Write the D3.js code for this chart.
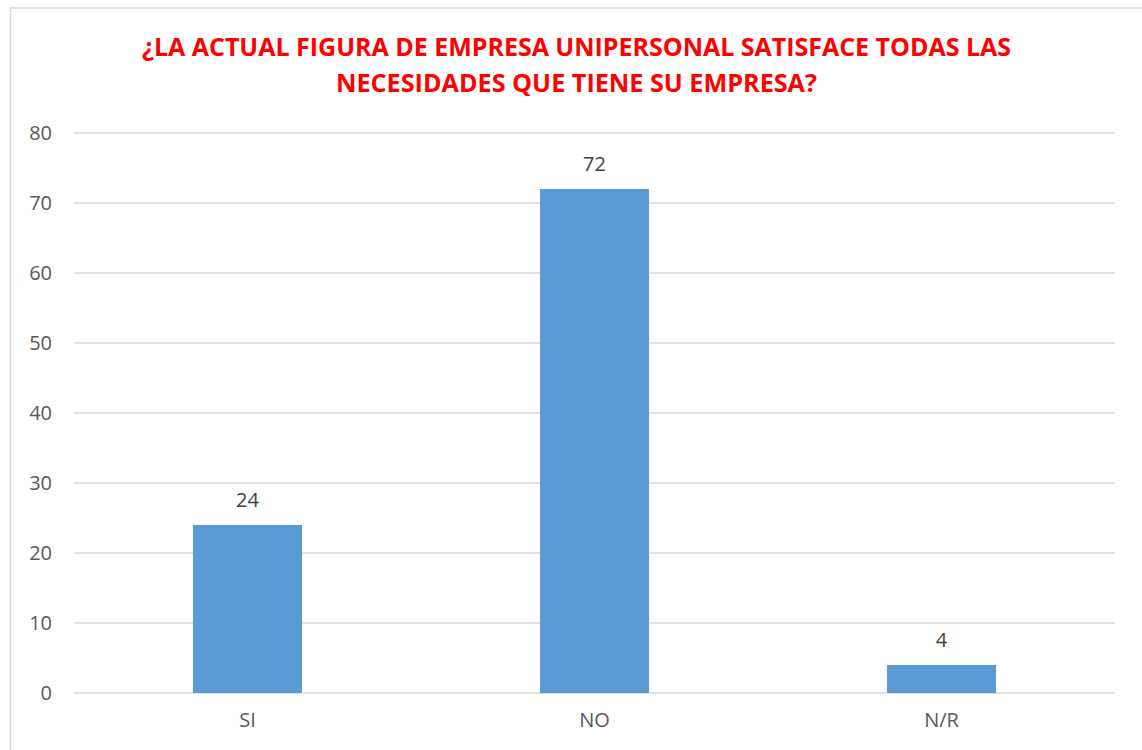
<!DOCTYPE html>
<html lang="es">
    <head>
        <meta charset="utf-8">
        <title>Empresa unipersonal</title>
        <script src="https://d3js.org/d3.v7.min.js"></script>
        <style>
            body { margin: 0; background: white; }
            text { font-family: "Open Sans", sans-serif; }
        </style>
    </head>
    <body>
        <script type="text/javascript">

            var categories = ["SI", "NO", "N/R"];
            var values = [24, 72, 4];
            var yTicks = [0, 10, 20, 30, 40, 50, 60, 70, 80];
            var titleLines = ["¿LA ACTUAL FIGURA DE EMPRESA UNIPERSONAL SATISFACE TODAS LAS",
                              "NECESIDADES QUE TIENE SU EMPRESA?"];

            var width = 1142, height = 750;
            var plot = { left: 74, right: 1115, top: 133, bottom: 693 };

            var svg = d3.select("body").append("svg")
                .attr("width", width)
                .attr("height", height);

            // chart frame
            svg.append("rect")
                .attr("x", 10.5).attr("y", 8)
                .attr("width", 1160).attr("height", 780)
                .attr("fill", "white")
                .attr("stroke", "#d9d9d9")
                .attr("stroke-width", 1.5);

            var x = d3.scaleBand()
                .domain(categories)
                .range([plot.left, plot.right])
                .paddingInner(0.686)
                .paddingOuter(0.343);

            var y = d3.scaleLinear()
                .domain([0, 80])
                .range([plot.bottom, plot.top]);

            // gridlines
            svg.append("g")
                .selectAll("line")
                .data(yTicks)
                .enter().append("line")
                .attr("x1", plot.left).attr("x2", plot.right)
                .attr("y1", d => y(d)).attr("y2", d => y(d))
                .attr("stroke", "#d9d9d9")
                .attr("stroke-width", 1.5);

            // y axis labels
            var yAxis = d3.axisLeft(y).tickValues(yTicks).tickSize(0).tickPadding(22);
            svg.append("g")
                .attr("transform", `translate(${plot.left},0)`)
                .call(yAxis)
                .call(g => g.select(".domain").remove())
                .selectAll("text")
                .attr("font-family", "Open Sans")
                .attr("font-size", 20)
                .attr("fill", "#595959");

            // x axis labels
            var xAxis = d3.axisBottom(x).tickSize(0).tickPadding(20);
            svg.append("g")
                .attr("transform", `translate(0,${plot.bottom})`)
                .call(xAxis)
                .call(g => g.select(".domain").remove())
                .selectAll("text")
                .attr("font-family", "Open Sans")
                .attr("font-size", 20)
                .attr("fill", "#595959");

            // bars
            svg.append("g")
                .selectAll("rect")
                .data(values)
                .enter().append("rect")
                .attr("x", (d, i) => x(categories[i]))
                .attr("y", d => y(d))
                .attr("width", x.bandwidth())
                .attr("height", d => y(0) - y(d))
                .attr("fill", "#5b9bd5");

            // value labels
            svg.append("g")
                .selectAll("text")
                .data(values)
                .enter().append("text")
                .attr("x", (d, i) => x(categories[i]) + x.bandwidth() / 2)
                .attr("y", d => y(d) - 18)
                .attr("text-anchor", "middle")
                .attr("font-size", 20)
                .attr("fill", "#404040")
                .text(d => d);

            // title
            var titleWidths = [869, 481];
            svg.append("g")
                .selectAll("text")
                .data(titleLines)
                .enter().append("text")
                .attr("x", 576.5)
                .attr("y", (d, i) => 56 + i * 36)
                .attr("text-anchor", "middle")
                .attr("font-size", 25)
                .attr("font-weight", "bold")
                .attr("fill", "#ff0000")
                .attr("textLength", (d, i) => titleWidths[i])
                .attr("lengthAdjust", "spacingAndGlyphs")
                .text(d => d);

        </script>
    </body>
</html>
